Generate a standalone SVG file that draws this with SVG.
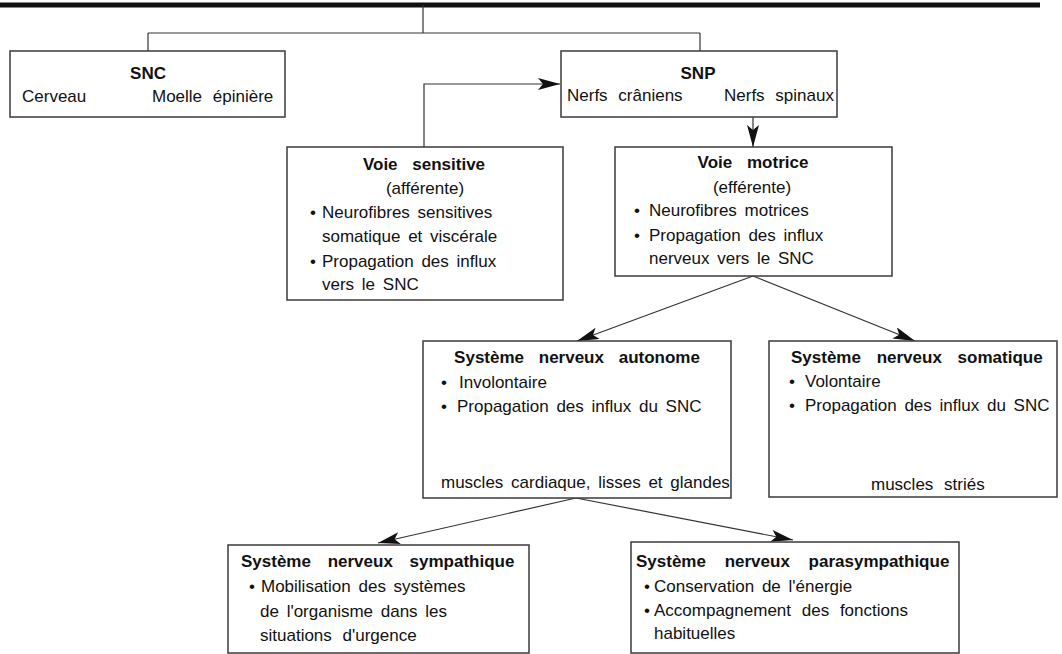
<svg xmlns="http://www.w3.org/2000/svg" width="1062" height="654" viewBox="0 0 1062 654">
<style>
  .box { fill: #fff; stroke: #3a3a3a; stroke-width: 1.5; }
  text { font-family: "Liberation Sans", Arial, sans-serif; font-size: 17px; fill: #111; word-spacing: 3px; }
  .t { font-weight: bold; word-spacing: 10px; }
  .c { text-anchor: middle; }
  .ln { fill: none; stroke: #333; stroke-width: 1.2; }
</style>
<defs>
  <marker id="ah" markerUnits="userSpaceOnUse" markerWidth="24" markerHeight="14" refX="22" refY="6" orient="auto">
    <path d="M0,0 L22,6 L0,12 L5,6 z" fill="#111"/>
  </marker>
</defs>
<rect x="0" y="0" width="1062" height="654" fill="#fff"/>
<g id="connectors">
  <line x1="0" y1="5" x2="1040" y2="5" stroke="#111" stroke-width="5"/>
  <path class="ln" d="M423,5 V33 M148,33 H700 M148,33 V51 M700,33 V51"/>
  <path class="ln" d="M424,147 V84 H560" marker-end="url(#ah)"/>
  <path class="ln" d="M753,117 V147" marker-end="url(#ah)"/>
  <path class="ln" d="M753,276 L577,341" marker-end="url(#ah)"/>
  <path class="ln" d="M753,276 L915,341" marker-end="url(#ah)"/>
  <path class="ln" d="M686,418 L503,463" marker-end="url(#ah)"/>
  <path class="ln" d="M686,418 L619,466" marker-end="url(#ah)"/>
  <path class="ln" d="M686,418 L688,469" marker-end="url(#ah)"/>
  <path class="ln" d="M1040,418 L970,464" marker-end="url(#ah)"/>
  <path class="ln" d="M576,498 L378,543" marker-end="url(#ah)"/>
  <path class="ln" d="M576,498 L793,540" marker-end="url(#ah)"/>
</g>
<g id="snc">
  <rect class="box" x="10" y="51" width="275" height="66"/>
  <text class="t c" x="148" y="79">SNC</text>
  <text x="22" y="102">Cerveau</text>
  <text x="152" y="102" style="word-spacing:6px">Moelle épinière</text>
</g>
<g id="snp">
  <rect class="box" x="561" y="51" width="276" height="66"/>
  <text class="t c" x="698" y="79">SNP</text>
  <text x="567" y="101" style="word-spacing:6px">Nerfs crâniens</text>
  <text x="724" y="101" style="word-spacing:6px">Nerfs spinaux</text>
</g>
<g id="voie-sensitive">
  <rect class="box" x="287" y="147" width="276" height="153"/>
  <text class="t c" x="424" y="170">Voie sensitive</text>
  <text class="c" x="425" y="194">(afférente)</text>
  <text x="310" y="218">•</text><text x="322" y="218">Neurofibres sensitives</text>
  <text x="322" y="242">somatique et viscérale</text>
  <text x="310" y="267">•</text><text x="322" y="267">Propagation des influx</text>
  <text x="322" y="290">vers le SNC</text>
</g>
<g id="voie-motrice">
  <rect class="box" x="615" y="147" width="277" height="129"/>
  <text class="t c" x="753" y="168">Voie motrice</text>
  <text class="c" x="752" y="193">(efférente)</text>
  <text x="634" y="216">•</text><text x="649" y="216">Neurofibres motrices</text>
  <text x="634" y="241">•</text><text x="649" y="241">Propagation des influx</text>
  <text x="649" y="264">nerveux vers le SNC</text>
</g>
<g id="autonome">
  <rect class="box" x="423" y="341" width="308" height="157"/>
  <text class="t c" x="577" y="363">Système nerveux autonome</text>
  <text x="441" y="388">•</text><text x="459" y="388">Involontaire</text>
  <text x="441" y="412">•</text><text x="457" y="412">Propagation des influx du SNC</text>
  <text x="441" y="488">muscles cardiaque, lisses et glandes</text>
</g>
<g id="somatique">
  <rect class="box" x="769" y="341" width="288" height="156"/>
  <text class="t" x="791" y="363" style="word-spacing:11px">Système nerveux somatique</text>
  <text x="789" y="387">•</text><text x="805" y="387">Volontaire</text>
  <text x="789" y="411">•</text><text x="805" y="411">Propagation des influx du SNC</text>
  <text x="871" y="490" style="word-spacing:6px">muscles striés</text>
</g>
<g id="sympathique">
  <rect class="box" x="228" y="545" width="301" height="108"/>
  <text class="t" x="241" y="567" style="word-spacing:12px">Système nerveux sympathique</text>
  <text x="249" y="592">•</text><text x="261" y="592">Mobilisation des systèmes</text>
  <text x="260" y="617">de l'organisme dans les</text>
  <text x="260" y="641" style="word-spacing:6px">situations d'urgence</text>
</g>
<g id="parasympathique">
  <rect class="box" x="631" y="542" width="328" height="111"/>
  <text class="t" x="636" y="567" style="word-spacing:14px">Système nerveux parasympathique</text>
  <text x="644" y="592">•</text><text x="654" y="592">Conservation de l'énergie</text>
  <text x="644" y="616">•</text><text x="654" y="616" style="word-spacing:6px">Accompagnement des fonctions</text>
  <text x="654" y="639">habituelles</text>
</g>
</svg>
